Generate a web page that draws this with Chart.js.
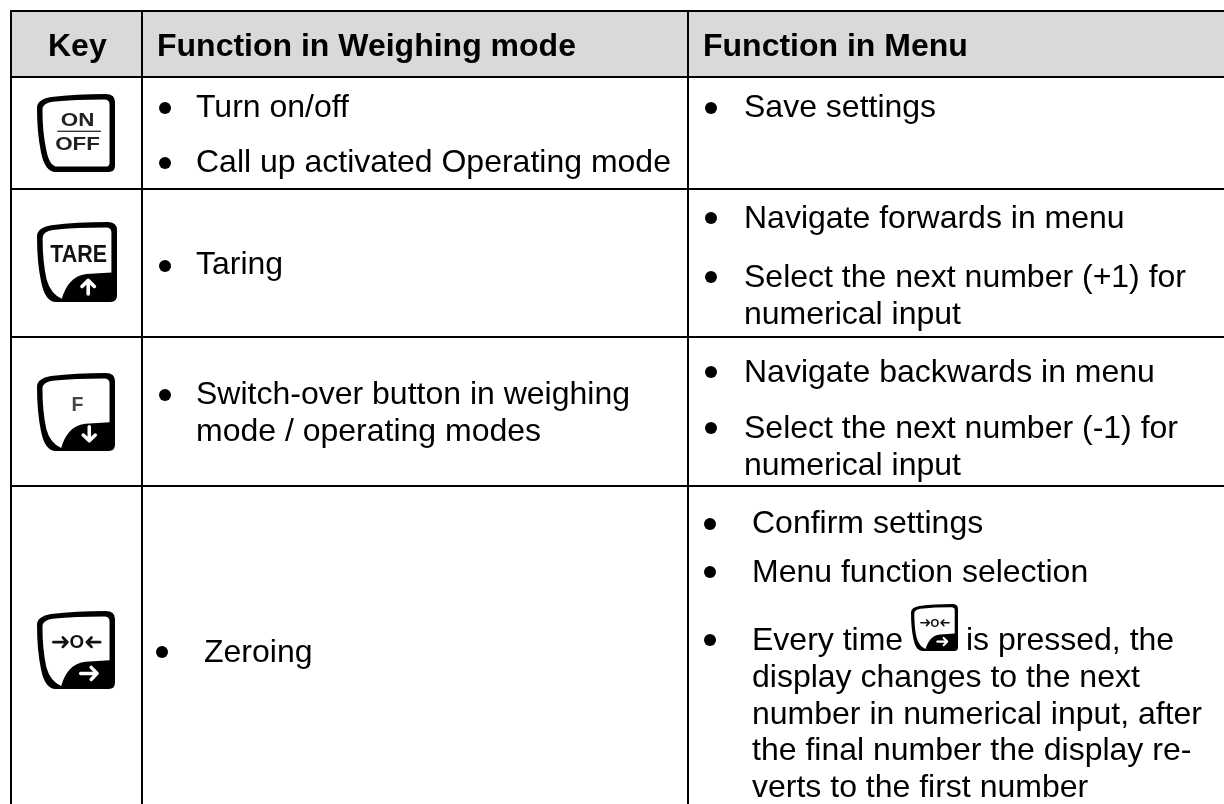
<!DOCTYPE html>
<html>
<head>
<meta charset="utf-8">
<title>Key functions</title>
<script src="https://cdn.jsdelivr.net/npm/chart.js@4"></script>
<style>
  html, body { margin: 0; padding: 0; background: #fff; }
  canvas { display: block; }
</style>
</head>
<body>
<canvas id="tabela" width="1224" height="804"></canvas>
<script>
// Table text
const headers = ['Key', 'Function in Weighing mode', 'Function in Menu'];
const weighingTexts = ['Turn on/off', 'Call up activated Operating mode', 'Taring', 'Switch-over button in weighing', 'mode / operating modes', 'Zeroing'];
const menuTexts = ['Save settings', 'Navigate forwards in menu', 'Select the next number (+1) for', 'numerical input', 'Navigate backwards in menu', 'Select the next number (-1) for', 'numerical input', 'Confirm settings', 'Menu function selection', 'Every time', 'is pressed, the', 'display changes to the next', 'number in numerical input, after', 'the final number the display re-', 'verts to the first number'];

// Table geometry, in page pixels
const colEdges = [11, 142, 688];
const rowEdges = [11, 77, 189, 337, 486];
const headerX = [48, 157, 703];
const headerY = 56;
const weighingX = [196, 196, 196, 196, 196, 204];
const weighingY = [117, 172, 274, 404, 441, 662];
const menuX = [744, 744, 744, 744, 744, 744, 744, 752, 752, 752, 966, 752, 752, 752, 752];
const menuY = [117, 228, 287, 324, 382, 438, 475, 533, 582, 650, 650, 687, 724, 760, 797];
const bulletX = [165, 165, 165, 165, 162, 711, 711, 711, 711, 711, 710, 710, 710];
const bulletY = [108, 163, 266, 395, 652, 108, 218, 277, 372, 428, 524, 572, 640];

// Key icons: label kind, left, top, size
const keyKinds = ['onoff', 'tare', 'f', 'zero', 'zero'];
const keyX = [37, 37, 37, 37, 911];
const keyY = [94, 222, 373, 611, 604];
const keySize = [78, 80, 78, 78, 47];

const FONT = '"Liberation Sans", Arial, sans-serif';

function arrow(ctx, x0, y0, x1, y1, cor, larg) {
  const ang = Math.atan2(y1 - y0, x1 - x0);
  const h = larg * 2.4;
  ctx.strokeStyle = cor;
  ctx.lineWidth = larg;
  ctx.lineCap = 'round';
  ctx.lineJoin = 'round';
  ctx.beginPath();
  ctx.moveTo(x0, y0);
  ctx.lineTo(x1, y1);
  ctx.moveTo(x1 - h * Math.cos(ang - 0.8), y1 - h * Math.sin(ang - 0.8));
  ctx.lineTo(x1, y1);
  ctx.lineTo(x1 - h * Math.cos(ang + 0.8), y1 - h * Math.sin(ang + 0.8));
  ctx.stroke();
}

// Key lettering is wider than the body font
function wideText(ctx, t, cx, by, sx) {
  ctx.save();
  ctx.translate(cx, by);
  ctx.scale(sx, 1);
  ctx.fillText(t, 0, 0);
  ctx.restore();
}

// Drawn in a 100x100 box and scaled to the wanted size
function drawKey(ctx, kind, x, y, size) {
  ctx.save();
  ctx.translate(x, y);
  ctx.scale(size / 100, size / 100);

  ctx.fillStyle = '#000';
  ctx.beginPath();
  ctx.moveTo(0, 18);
  ctx.quadraticCurveTo(0, 7, 18, 4);
  ctx.quadraticCurveTo(50, 0, 88, 0);
  ctx.quadraticCurveTo(100, 0, 100, 10);
  ctx.lineTo(100, 92);
  ctx.quadraticCurveTo(100, 100, 92, 100);
  ctx.lineTo(24, 100);
  ctx.quadraticCurveTo(10, 100, 5, 74);
  ctx.quadraticCurveTo(0, 50, 0, 18);
  ctx.fill();

  ctx.fillStyle = '#fff';
  ctx.beginPath();
  ctx.moveTo(7, 20);
  ctx.quadraticCurveTo(7, 12, 20, 10);
  ctx.quadraticCurveTo(50, 7, 86, 7);
  ctx.quadraticCurveTo(93, 7, 93, 13);
  if (kind === 'onoff') {
    ctx.lineTo(93, 88);
    ctx.quadraticCurveTo(93, 93, 88, 93);
    ctx.lineTo(26, 93);
    ctx.quadraticCurveTo(16, 93, 12, 72);
  } else {
    ctx.lineTo(93, 63);
    ctx.lineTo(62, 65);
    ctx.bezierCurveTo(44, 67, 36, 80, 31, 96);
    ctx.quadraticCurveTo(17, 90, 12, 72);
  }
  ctx.quadraticCurveTo(7, 50, 7, 20);
  ctx.fill();

  ctx.textBaseline = 'alphabetic';
  ctx.textAlign = 'center';
  if (kind === 'onoff') {
    ctx.fillStyle = '#222';
    ctx.font = 'bold 23px ' + FONT;
    wideText(ctx, 'ON', 52, 41, 1.25);
    ctx.fillRect(26, 47, 56, 1.6);
    wideText(ctx, 'OFF', 52, 72, 1.25);
  } else if (kind === 'tare') {
    ctx.fillStyle = '#111';
    ctx.font = 'bold 29px ' + FONT;
    ctx.fillText('TARE', 52, 50, 71);
    arrow(ctx, 64, 90, 64, 73, '#fff', 4.5);
  } else if (kind === 'f') {
    ctx.fillStyle = '#444';
    ctx.font = 'bold 25px ' + FONT;
    ctx.fillText('F', 52, 49);
    arrow(ctx, 67, 69, 67, 87, '#fff', 4.5);
  } else {
    ctx.fillStyle = '#111';
    ctx.font = 'bold 24px ' + FONT;
    ctx.fillText('O', 51, 48);
    arrow(ctx, 21, 40, 39, 40, '#111', 3.5);
    arrow(ctx, 81, 40, 64, 40, '#111', 3.5);
    arrow(ctx, 56, 80, 77, 80, '#fff', 4.5);
  }
  ctx.restore();
}

// Text and key icons, placed through the scales
const textoTabela = {
  id: 'textoTabela',
  afterDatasetsDraw(chart) {
    const { ctx, scales: { x, y } } = chart;
    ctx.save();
    ctx.fillStyle = '#000';
    ctx.textBaseline = 'alphabetic';
    ctx.textAlign = 'left';

    ctx.font = 'bold 32px ' + FONT;
    headers.forEach((h, i) => ctx.fillText(h, x.getPixelForValue(headerX[i]), y.getPixelForValue(headerY)));

    ctx.font = '32px ' + FONT;
    weighingTexts.forEach((t, i) => ctx.fillText(t, x.getPixelForValue(weighingX[i]), y.getPixelForValue(weighingY[i])));
    menuTexts.forEach((t, i) => ctx.fillText(t, x.getPixelForValue(menuX[i]), y.getPixelForValue(menuY[i])));

    keyKinds.forEach((k, i) => drawKey(ctx, k, x.getPixelForValue(keyX[i]), y.getPixelForValue(keyY[i]), keySize[i]));
    ctx.restore();
  }
};

new Chart(document.getElementById('tabela').getContext('2d'), {
  type: 'scatter',
  data: {
    datasets: [
      {
        // Grey header band
        type: 'line',
        data: [{ x: colEdges[0], y: rowEdges[0] }, { x: 1224, y: rowEdges[0] }],
        fill: { value: rowEdges[1] },
        backgroundColor: '#d9d9d9',
        borderWidth: 0,
        pointRadius: 0,
        order: 2
      },
      {
        // Bullets
        data: bulletX.map((bx, i) => ({ x: bx, y: bulletY[i] })),
        backgroundColor: '#000',
        borderWidth: 0,
        pointRadius: 6,
        order: 1
      }
    ]
  },
  options: {
    responsive: false,
    animation: false,
    events: [],
    layout: { autoPadding: false, padding: { left: 10, top: 10, right: 0, bottom: 0 } },
    plugins: { legend: { display: false }, title: { display: false }, tooltip: { enabled: false } },
    scales: {
      x: {
        type: 'linear',
        min: 10,
        max: 1224,
        afterBuildTicks: (s) => { s.ticks = colEdges.map(v => ({ value: v })); },
        ticks: { display: false },
        border: { display: false },
        grid: { color: '#000', lineWidth: 2, drawTicks: false, z: 1 }
      },
      y: {
        type: 'linear',
        reverse: true,
        min: 10,
        max: 804,
        afterBuildTicks: (s) => { s.ticks = rowEdges.map(v => ({ value: v })); },
        ticks: { display: false },
        border: { display: false },
        grid: { color: '#000', lineWidth: 2, drawTicks: false, z: 1 }
      }
    }
  },
  plugins: [textoTabela]
});
</script>
</body>
</html>
